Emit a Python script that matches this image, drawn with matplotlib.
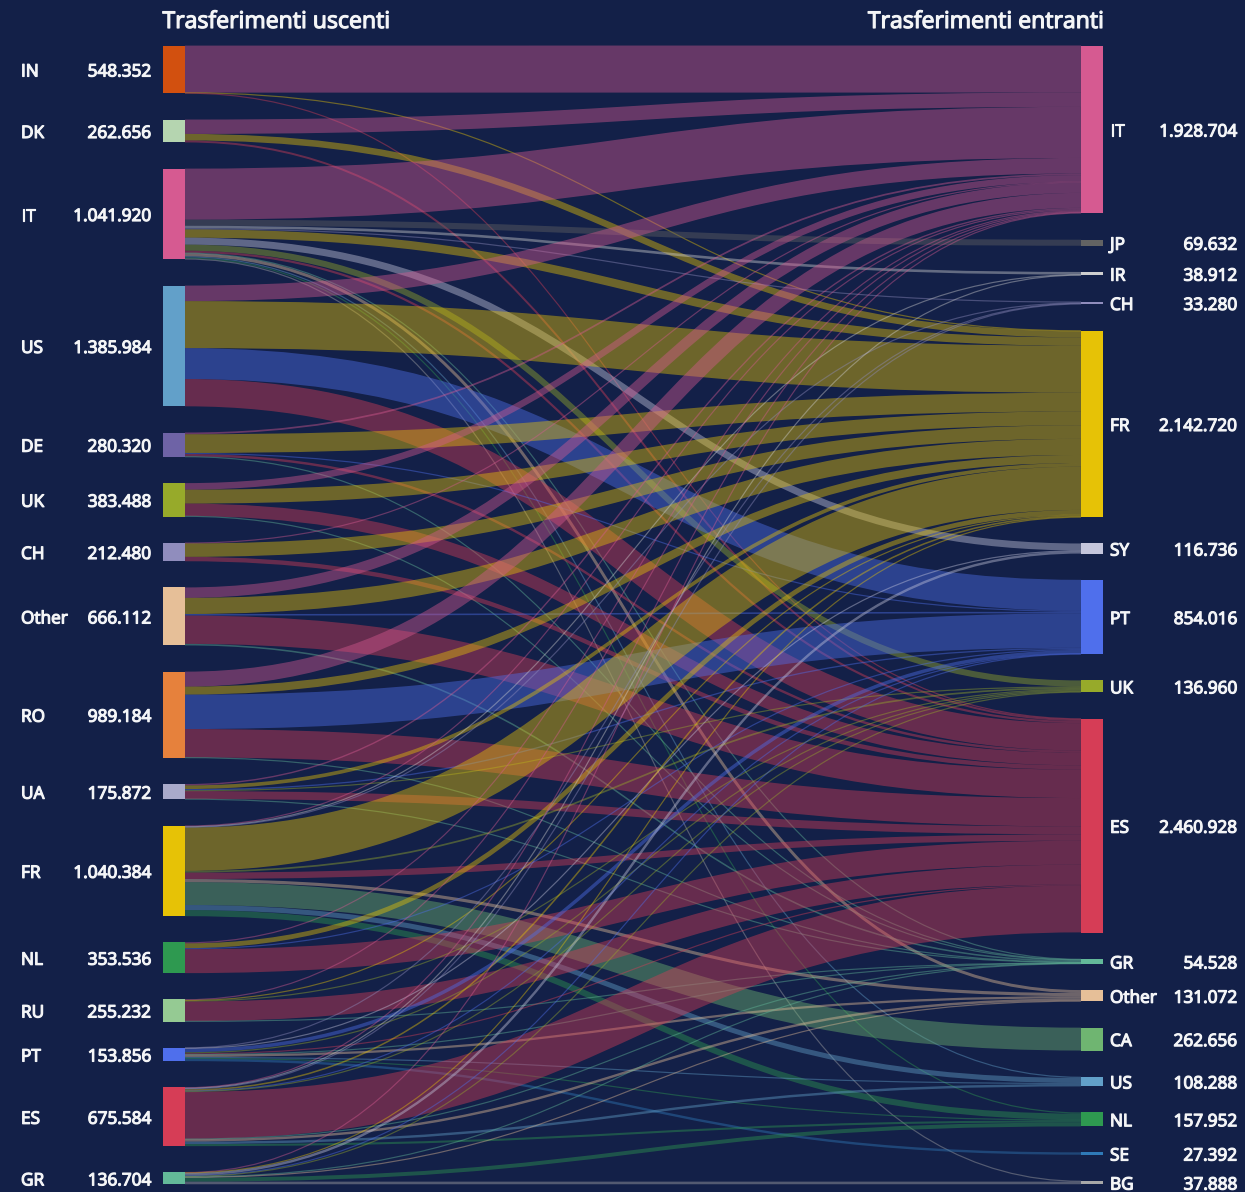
import matplotlib
matplotlib.use("Agg")
import matplotlib.pyplot as plt
import matplotlib.patheffects as pe
from matplotlib.path import Path
from matplotlib.patches import PathPatch, Rectangle

## values in thousands, label text as in the chart
left_names = ["IN", "DK", "IT", "US", "DE", "UK", "CH", "Other", "RO", "UA", "FR", "NL", "RU", "PT", "ES", "GR"]
left_totals = [548.352, 262.656, 1041.920, 1385.984, 280.320, 383.488, 212.480, 666.112,
               989.184, 175.872, 1040.384, 353.536, 255.232, 153.856, 675.584, 136.704]
left_labels = ["548.352", "262.656", "1.041.920", "1.385.984", "280.320", "383.488", "212.480", "666.112",
               "989.184", "175.872", "1.040.384", "353.536", "255.232", "153.856", "675.584", "136.704"]

right_names = ["IT", "JP", "IR", "CH", "FR", "SY", "PT", "UK", "ES", "GR", "Other", "CA", "US", "NL", "SE", "BG"]
right_totals = [1928.704, 69.632, 38.912, 33.280, 2142.720, 116.736, 854.016, 136.960,
                2460.928, 54.528, 131.072, 262.656, 108.288, 157.952, 27.392, 37.888]
right_labels = ["1.928.704", "69.632", "38.912", "33.280", "2.142.720", "116.736", "854.016", "136.960",
                "2.460.928", "54.528", "131.072", "262.656", "108.288", "157.952", "27.392", "37.888"]

## one dict per outgoing country, target -> value
from_in = {"IT": 540, "FR": 3, "ES": 5.4}
from_dk = {"IT": 165, "FR": 75, "ES": 22.6}
from_it = {"IT": 586, "JP": 69.6, "IR": 30, "CH": 12, "FR": 95, "SY": 80, "UK": 70, "ES": 25,
           "GR": 5, "Other": 34, "US": 13, "NL": 14, "BG": 8}
from_us = {"IT": 178, "FR": 540, "PT": 355, "ES": 313}
from_de = {"IT": 20, "FR": 215, "PT": 12, "ES": 28, "GR": 5}
from_uk = {"IT": 75, "FR": 160, "ES": 143.5, "GR": 5}
from_ch = {"IT": 8, "FR": 154.5, "ES": 50}
from_other = {"IT": 120, "FR": 185, "PT": 18, "ES": 325, "GR": 18}
from_ro = {"IT": 172, "FR": 92, "PT": 395, "ES": 326, "GR": 4}
from_ua = {"IT": 16, "FR": 42, "PT": 15, "UK": 8, "ES": 91, "GR": 4}
from_fr = {"IT": 12, "IR": 4, "CH": 8, "FR": 497, "UK": 20, "ES": 73, "Other": 36, "CA": 262.656, "US": 58, "NL": 70}
from_nl = {"IT": 12, "FR": 55, "PT": 12, "ES": 274.5}
from_ru = {"IT": 9, "FR": 8, "UK": 8, "ES": 226, "GR": 4}
from_pt = {"CH": 3, "SY": 8, "PT": 40, "UK": 14, "ES": 13, "GR": 2, "Other": 26, "US": 12, "NL": 8, "SE": 27.4}
from_es = {"IT": 8, "IR": 5, "CH": 10, "FR": 18, "PT": 2, "UK": 10, "ES": 539, "GR": 3, "Other": 28, "US": 28, "NL": 24}
from_gr = {"IT": 4, "FR": 4, "SY": 28, "PT": 6, "UK": 7, "GR": 5, "Other": 7, "NL": 45, "BG": 30}
flows = [from_in, from_dk, from_it, from_us, from_de, from_uk, from_ch, from_other,
         from_ro, from_ua, from_fr, from_nl, from_ru, from_pt, from_es, from_gr]

colors = {"IN": "#d2500f", "DK": "#b5d5b0", "IT": "#d65a91", "US": "#62a0c9", "DE": "#6e63a6", "UK": "#97aa2a",
          "CH": "#908dbd", "Other": "#e6bf98", "RO": "#e6813c", "UA": "#a9aacb", "FR": "#e6c206", "NL": "#2e9950",
          "RU": "#95ca93", "PT": "#4f6fec", "ES": "#d63d56", "GR": "#63b999", "JP": "#636363", "IR": "#cfcfcf",
          "SY": "#c5c6dc", "CA": "#6fb571", "SE": "#2f7ab8", "BG": "#a8a8a8"}

## layout in pixels
bg = "#132048"
px_per_k = 0.0871
gap = 26.2
min_width = 1.2
left_x0, left_x1 = 163, 185
right_x0, right_x1 = 1081, 1103
left_top, right_top = 45.6, 45.5

plt.rcParams["font.family"] = ["Open Sans", "DejaVu Sans"]

fig = plt.figure(figsize=(12.45, 11.92), dpi=100, facecolor=bg)
ax = fig.add_axes([0, 0, 1, 1])
ax.set_xlim(0, 1245)
ax.set_ylim(1192, 0)
ax.axis("off")


def node_tops(totals, start):
    tops = []
    y = start
    for t in totals:
        tops.append(y)
        y += t * px_per_k + gap
    return tops


l_tops = node_tops(left_totals, left_top)
r_tops = node_tops(right_totals, right_top)

## stack the links, targets go top to bottom inside a source and sources inside a target
r_used = list(r_tops)
for i, row in enumerate(flows):
    y0 = l_tops[i]
    for name in right_names:
        if name not in row:
            continue
        j = right_names.index(name)
        h = row[name] * px_per_k
        ya = y0 + h / 2
        yb = r_used[j] + h / 2
        xm = (left_x1 + right_x0) / 2
        p = Path([(left_x1, ya), (xm, ya), (xm, yb), (right_x0, yb)],
                 [Path.MOVETO, Path.CURVE4, Path.CURVE4, Path.CURVE4])
        ax.add_patch(PathPatch(p, fc="none", ec=colors[name], lw=max(h, min_width) * 0.72, alpha=0.43,
                               capstyle="butt", zorder=2))
        y0 += h
        r_used[j] += h

## Open Sans comes out regular here, a thin outline makes it semibold
bold = [pe.withStroke(linewidth=0.85, foreground="#f4f5f7")]
txt = dict(color="#f4f5f7", fontsize=12.4, zorder=4, path_effects=bold)
for n, t, lab, top in zip(left_names, left_totals, left_labels, l_tops):
    h = t * px_per_k
    ax.add_patch(Rectangle((left_x0, top), left_x1 - left_x0, h, fc=colors[n], ec="none", zorder=3))
    ax.text(21, top + h / 2 + 7, n, ha="left", va="baseline", **txt)
    ax.text(151.5, top + h / 2 + 7, lab, ha="right", va="baseline", **txt)

for n, t, lab, top in zip(right_names, right_totals, right_labels, r_tops):
    h = t * px_per_k
    ax.add_patch(Rectangle((right_x0, top), right_x1 - right_x0, h, fc=colors[n], ec="none", zorder=3))
    ax.text(1110, top + h / 2 + 7, n, ha="left", va="baseline", **txt)
    ax.text(1237.5, top + h / 2 + 7, lab, ha="right", va="baseline", **txt)

ttl = dict(va="baseline", color="#f4f5f7", fontsize=16.6, path_effects=bold)
ax.text(162.5, 28, "Trasferimenti uscenti", ha="left", **ttl)
ax.text(1103.5, 28, "Trasferimenti entranti", ha="right", **ttl)

fig.savefig("out.png", dpi=100, facecolor=bg)
